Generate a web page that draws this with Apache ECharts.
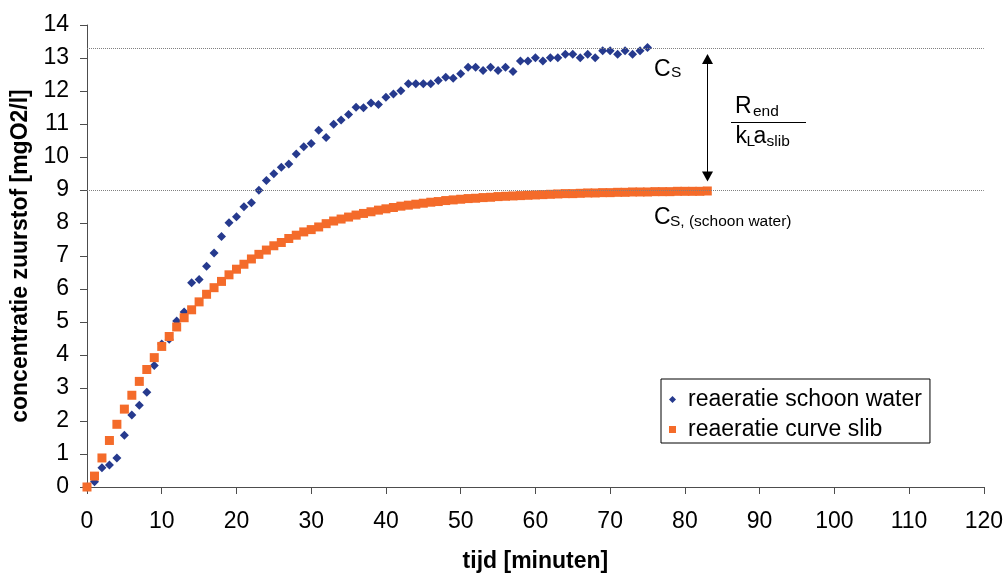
<!DOCTYPE html>
<html>
<head>
<meta charset="utf-8">
<script src="https://cdn.jsdelivr.net/npm/echarts@6/dist/echarts.min.js"></script>
<style>
html,body{margin:0;padding:0;background:#fff;}
#chart{width:1006px;height:578px;}
</style>
</head>
<body>
<div id="chart"></div>
<script>
// ---- data ----
const timeSchoon = [0,1,2,3,4,5,6,7,8,9,10,11,12,13,14,15,16,17,18,19,20,21,22,23,24,25,26,27,28,29,30,31,32,33,34,35,36,37,38,39,40,41,42,43,44,45,46,47,48,49,50,51,52,53,54,55,56,57,58,59,60,61,62,63,64,65,66,67,68,69,70,71,72,73,74,75];
const valSchoon = [0.0,0.16,0.58,0.67,0.88,1.57,2.18,2.48,2.87,3.68,4.33,4.48,5.03,5.3,6.19,6.29,6.69,7.09,7.59,8.01,8.19,8.49,8.61,8.99,9.29,9.49,9.69,9.79,10.09,10.31,10.41,10.81,10.59,10.99,11.12,11.29,11.51,11.49,11.64,11.59,11.81,11.91,12.01,12.22,12.22,12.22,12.22,12.32,12.42,12.39,12.52,12.72,12.72,12.62,12.72,12.62,12.72,12.59,12.91,12.91,13.01,12.91,13.01,13.01,13.11,13.11,13.01,13.11,13.01,13.22,13.22,13.11,13.22,13.11,13.22,13.32];
const timeSlib = [0,1,2,3,4,5,6,7,8,9,10,11,12,13,14,15,16,17,18,19,20,21,22,23,24,25,26,27,28,29,30,31,32,33,34,35,36,37,38,39,40,41,42,43,44,45,46,47,48,49,50,51,52,53,54,55,56,57,58,59,60,61,62,63,64,65,66,67,68,69,70,71,72,73,74,75,76,77,78,79,80,81,82,83];
const valSlib = [0,0.33,0.88,1.41,1.90,2.36,2.78,3.20,3.56,3.92,4.26,4.56,4.85,5.13,5.37,5.61,5.84,6.04,6.23,6.43,6.60,6.75,6.91,7.05,7.18,7.31,7.41,7.53,7.63,7.73,7.80,7.88,7.98,8.06,8.12,8.18,8.24,8.29,8.34,8.39,8.43,8.47,8.51,8.54,8.57,8.60,8.63,8.65,8.68,8.70,8.72,8.74,8.75,8.77,8.78,8.80,8.81,8.82,8.83,8.84,8.85,8.86,8.87,8.88,8.89,8.89,8.90,8.91,8.91,8.92,8.92,8.93,8.93,8.94,8.94,8.94,8.95,8.95,8.95,8.96,8.96,8.96,8.96,8.97];
const csLevels = [13.3, 9.0];          // C_S (slib) and C_S,(schoon water) reference lines
const arrowX = 83;                     // time position of the double arrow
const xTicks = {min: 0, max: 120, interval: 10};
const yTicks = {min: 0, max: 14, interval: 1};
const seriesNames = ['reaeratie schoon water', 'reaeratie curve slib'];

const FONT = "'Liberation Sans', Arial, Helvetica, sans-serif";
const AXIS_COLOR = '#4d4d4d';

const chart = echarts.init(document.getElementById('chart'), null, {renderer: 'canvas'});

const axisCommon = {
  axisLine: {show: true, lineStyle: {color: AXIS_COLOR, width: 1}},
  axisTick: {show: true, inside: false, length: 7, lineStyle: {color: AXIS_COLOR}},
  splitLine: {show: false},
  nameLocation: 'middle',
  nameTextStyle: {fontFamily: FONT, fontSize: 23, fontWeight: 'bold', color: '#000'}
};

const option = {
  animation: false,
  backgroundColor: '#fff',
  grid: {left: 87, right: 20, top: 25, bottom: 87, containLabel: false},
  xAxis: Object.assign({}, axisCommon, {
    type: 'value', min: xTicks.min, max: xTicks.max, interval: xTicks.interval,
    name: 'tijd [minuten]', nameGap: 63,
    axisLabel: {fontFamily: FONT, fontSize: 23, color: '#000', margin: 23}
  }),
  yAxis: Object.assign({}, axisCommon, {
    type: 'value', min: yTicks.min, max: yTicks.max, interval: yTicks.interval,
    name: 'concentratie zuurstof [mgO2/l]', nameGap: 54, nameRotate: 90,
    axisLabel: {fontFamily: FONT, fontSize: 23, color: '#000', margin: 18}
  }),
  legend: {
    orient: 'vertical', left: 661, top: 379,
    padding: [9, 8, 2, 8], itemGap: 7,
    itemWidth: 7, itemHeight: 7,
    borderColor: '#000', borderWidth: 1, backgroundColor: '#fff',
    textStyle: {fontFamily: FONT, fontSize: 23, color: '#000', padding: [0, 0, 0, 7]},
    data: [{name: seriesNames[0], icon: 'diamond'}, {name: seriesNames[1], icon: 'rect'}],
    selectedMode: false
  },
  series: [
    {
      name: seriesNames[0], type: 'scatter', symbol: 'diamond', symbolSize: 9,
      itemStyle: {color: '#263A8E', opacity: 1},
      data: timeSchoon.map((t, i) => [t, valSchoon[i]]),
      markLine: {
        silent: true, symbol: 'none', label: {show: false},
        lineStyle: {color: '#808080', type: 'dotted', width: 1},
        data: csLevels.map(v => ({yAxis: v}))
      },
      z: 2
    },
    {
      name: seriesNames[1], type: 'scatter', symbol: 'rect', symbolSize: 9,
      itemStyle: {color: '#F46B2A', opacity: 1},
      data: timeSlib.map((t, i) => [t, valSlib[i]]),
      z: 3
    }
  ]
};
chart.setOption(option);

// ---- annotations ----
const pTop = chart.convertToPixel({gridIndex: 0}, [arrowX, csLevels[0]]);
const pBot = chart.convertToPixel({gridIndex: 0}, [arrowX, csLevels[1]]);
const ax = Math.round(pTop[0]) + 0.5;
const tipTop = pTop[1] + 6;
const tipBot = pBot[1] - 8.5;
const headH = 10, headW = 5.5;

function txt(text, x, y, size) {
  return {type: 'text', x: x, y: y, silent: true, z: 100,
    style: {text: text, fontFamily: FONT, fontSize: size, fill: '#000', align: 'left', verticalAlign: 'middle'}};
}

chart.setOption({
  graphic: [
    {type: 'line', silent: true, z: 100, shape: {x1: ax, y1: tipTop + headH - 1, x2: ax, y2: tipBot - headH + 1}, style: {stroke: '#000', lineWidth: 1}},
    {type: 'polygon', silent: true, z: 100, shape: {points: [[ax, tipTop], [ax - headW, tipTop + headH], [ax + headW, tipTop + headH]]}, style: {fill: '#000'}},
    {type: 'polygon', silent: true, z: 100, shape: {points: [[ax, tipBot], [ax - headW, tipBot - headH], [ax + headW, tipBot - headH]]}, style: {fill: '#000'}},
    {type: 'line', silent: true, z: 100, shape: {x1: 731, y1: 122.5, x2: 806, y2: 122.5}, style: {stroke: '#000', lineWidth: 1}},
    txt('C', 654, 70, 23),
    txt('S', 671, 73.1, 15.5),
    txt('R', 735, 107, 23),
    txt('end', 753, 111.9, 15.5),
    txt('k', 735.5, 137, 23),
    txt('L', 746.5, 141.3, 15.5),
    txt('a', 753.5, 137, 23),
    txt('slib', 766.5, 141.9, 15.5),
    txt('C', 654, 218, 23),
    txt('S, (schoon water)', 670, 221.3, 15.5)
  ]
});
</script>
</body>
</html>
